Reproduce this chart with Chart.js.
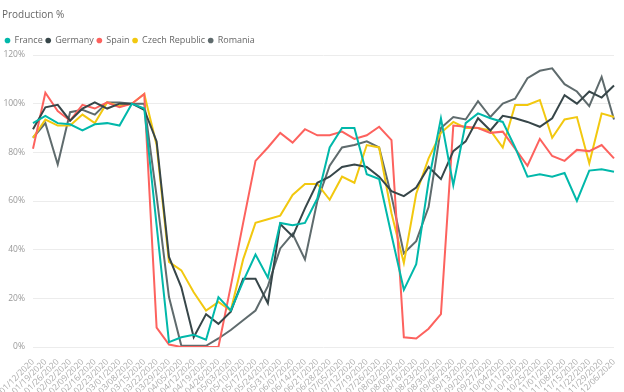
<!DOCTYPE html>
<html>

<head>
    <title>Production %</title>
    <script src="https://cdn.jsdelivr.net/npm/chart.js"></script>
    <style>
        body { margin: 0; background: #fff; }
    </style>
</head>

<body>
    <canvas id="productionChart" width="624" height="392"></canvas>

    <script>
        // Semaines (axe X)
        const weeks = [
            '01/12/2020', '01/19/2020', '01/26/2020', '02/02/2020', '02/09/2020', '02/16/2020',
            '02/23/2020', '03/01/2020', '03/08/2020', '03/15/2020', '03/22/2020', '03/29/2020',
            '04/05/2020', '04/12/2020', '04/19/2020', '04/26/2020', '05/03/2020', '05/10/2020',
            '05/17/2020', '05/24/2020', '05/31/2020', '06/07/2020', '06/14/2020', '06/21/2020',
            '06/28/2020', '07/05/2020', '07/12/2020', '07/19/2020', '07/26/2020', '08/02/2020',
            '08/09/2020', '08/16/2020', '08/23/2020', '08/30/2020', '09/06/2020', '09/13/2020',
            '09/20/2020', '09/27/2020', '10/04/2020', '10/11/2020', '10/18/2020', '10/25/2020',
            '11/01/2020', '11/08/2020', '11/15/2020', '11/22/2020', '11/29/2020', '12/06/2020'
        ];

        // Production en % par pays
        const france = [92, 95, 92, 91.5, 89, 91.5, 92, 91, 100, 98, 50, 2,
            4, 5, 3, 20.5, 15, 27, 38, 28.5, 51, 50, 51, 61,
            82, 90, 90, 71, 69, 46, 23.5, 34, 68, 94, 66.5, 92,
            96, 94, 92.5, 82, 70, 71, 70, 71.5, 60, 72.5, 73, 72];
        const germany = [89.5, 98.5, 99.5, 93, 98, 100.5, 98, 100, 100, 97.5, 84.5, 37,
            24.5, 4, 13.5, 9.5, 14.5, 28, 28, 18, 50.5, 45.5, 57, 67.5,
            70, 74, 75, 74, 70, 64, 62, 65.5, 74, 69, 80.5, 84.5,
            94, 89, 95, 94, 92.5, 90.5, 94, 103.5, 100, 105, 102.5, 107.5];
        const spain = [81.5, 104.5, 97, 93, 99.5, 98, 100.5, 98.5, 100, 104, 8, 1,
            0, 0, 0, 0, 25, 51, 76.5, 82, 88, 84, 89.5, 87,
            87, 88.5, 85.5, 87, 90.5, 85, 4, 3.5, 7.5, 13.5, 91, 90.5,
            90, 88, 88.5, 81.5, 74.5, 85.5, 78.5, 76.5, 81, 80.5, 83, 77.5];
        const czech = [86, 93.5, 91, 91, 95.5, 92, 100.5, 99, 100, 104, 83, 35,
            31.5, 22.5, 15, 18.5, 15, 36, 51, 52.5, 54, 62.5, 67, 67,
            60.5, 70, 67.5, 83, 82, 55, 34.5, 63, 77.5, 88, 92.5, 90,
            90, 89, 82, 99.5, 99.5, 101.5, 86, 93.5, 94.5, 75.5, 96, 94.5];
        const romania = [86, 92, 75, 96.5, 97.5, 95.5, 100.5, 100.5, 100, 100, 62, 20.5,
            0.5, 0.5, 0.5, 3.5, 7, 11, 15, 25, 40.5, 46.5, 36, 60,
            74.5, 82, 83, 84.5, 82, 62, 38.5, 43.5, 57.5, 90, 94.5, 93.5,
            101, 94.5, 100, 102, 110.5, 113.5, 114.5, 108, 105, 99, 111, 93.5];

        // Graduations de l'axe Y
        const yTicks = [0, 20, 40, 60, 80, 100, 120];

        const series = [
            { label: 'France', data: france, color: '#01B8AA' },
            { label: 'Germany', data: germany, color: '#374649' },
            { label: 'Spain', data: spain, color: '#FD625E' },
            { label: 'Czech Republic', data: czech, color: '#F2C80F' },
            { label: 'Romania', data: romania, color: '#5F6B6D' }
        ];

        const fontFamily = '"Segoe UI", "Open Sans", sans-serif';

        const ctx = document.getElementById('productionChart').getContext('2d');
        new Chart(ctx, {
            type: 'line',
            data: {
                labels: weeks,
                datasets: series.map(s => ({
                    label: s.label,
                    data: s.data,
                    borderColor: s.color,
                    backgroundColor: s.color,
                    borderWidth: 2,
                    pointRadius: 0,
                    tension: 0,
                    fill: false
                }))
            },
            options: {
                responsive: false,
                animation: false,
                layout: { padding: { left: 2, right: 10, top: 0, bottom: 0 } },
                plugins: {
                    title: {
                        display: true,
                        text: 'Production %',
                        align: 'start',
                        color: '#666',
                        font: { family: fontFamily, size: 10, weight: 'normal' },
                        padding: { top: 9, bottom: 12 }
                    },
                    legend: {
                        position: 'top',
                        align: 'start',
                        labels: {
                            usePointStyle: true,
                            pointStyle: 'circle',
                            boxWidth: 5,
                            boxHeight: 4,
                            padding: 3,
                            color: '#666',
                            font: { family: fontFamily, size: 9 },
                            // petits points pleins, sans contour
                            generateLabels: (chart) => Chart.defaults.plugins.legend.labels
                                .generateLabels(chart)
                                .map(item => Object.assign(item, { lineWidth: 0 }))
                        }
                    },
                    tooltip: { enabled: false }
                },
                scales: {
                    x: {
                        grid: { display: false },
                        border: { display: false },
                        ticks: {
                            autoSkip: false,
                            maxRotation: 45,
                            minRotation: 45,
                            padding: 2,
                            color: '#aaa',
                            font: { family: fontFamily, size: 8.5 }
                        },
                        afterFit: (scale) => {
                            scale.paddingLeft = 0;
                            scale.paddingRight = 0;
                            scale.height = 45;
                        }
                    },
                    y: {
                        min: 0,
                        max: 120,
                        afterBuildTicks: (scale) => {
                            scale.ticks = yTicks.map(v => ({ value: v }));
                        },
                        grid: { color: '#ececec', drawTicks: false },
                        border: { display: false },
                        ticks: {
                            padding: 8,
                            color: '#999',
                            font: { family: fontFamily, size: 8.5 },
                            callback: v => v + '%'
                        },
                        afterFit: (scale) => {
                            scale.width = 31;
                        }
                    }
                }
            }
        });
    </script>
</body>

</html>
